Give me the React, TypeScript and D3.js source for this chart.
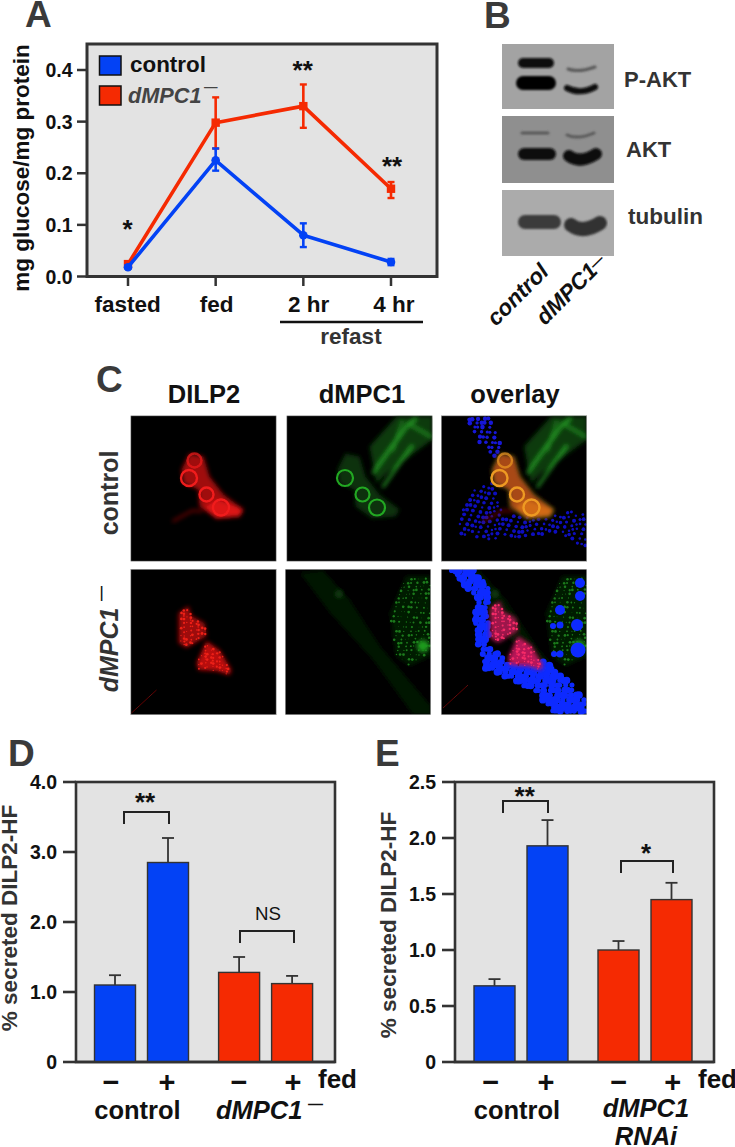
import React from "react";
import * as d3 from "d3";

// ---------- data ----------
const timeLabels = ["fasted", "fed", "2 hr", "4 hr"];
const controlMean = [0.018, 0.225, 0.08, 0.028];
const controlLow = [0.015, 0.205, 0.057, 0.022];
const controlHigh = [0.022, 0.248, 0.103, 0.034];
const mutantMean = [0.024, 0.298, 0.33, 0.17];
const mutantLow = [0.02, 0.248, 0.288, 0.152];
const mutantHigh = [0.028, 0.347, 0.372, 0.183];
const aTicks = [0, 0.1, 0.2, 0.3, 0.4];

const fedStates = ["−", "+"];
const dMeans = [1.1, 2.85, 1.28, 1.12];
const dErrs = [1.24, 3.2, 1.5, 1.23];
const dTicks = [0, 1, 2, 3, 4];
const dTickLabels = ["0", "1.0", "2.0", "3.0", "4.0"];
const eMeans = [0.68, 1.93, 1.0, 1.45];
const eErrs = [0.74, 2.16, 1.08, 1.6];
const eTicks = [0, 0.5, 1, 1.5, 2, 2.5];
const eTickLabels = ["0", "0.5", "1.0", "1.5", "2.0", "2.5"];

const BLUE = "#0342f5";
const RED = "#f52a02";
const INK = "#333";
const PANEL = "#e3e3e3";
const FONT = "'Liberation Sans', Arial, sans-serif";

// ---------- microscopy shapes, in image units (146 x 146) ----------
type P = [number, number];
const cluster: P[] = [[51, 54], [59, 38], [73, 41], [79, 61], [93, 79], [113, 94], [109, 101], [86, 103], [69, 91], [68, 74], [53, 68]];
const rings: [number, number, number][] = [[58.5, 62.5, 8], [76, 79, 7], [90.5, 92, 8], [64, 45, 7]];
const topBand: P[] = [[22, 1], [47, 1], [62, 31], [54, 41], [37, 25]];
const lowBand: P[] = [[26, 78], [54, 64], [62, 101], [112, 99], [146, 94], [146, 136], [116, 118], [49, 124], [16, 118]];
const fiberArea: P[] = [[83, 31], [110, 1], [146, 1], [146, 24], [123, 41], [100, 58], [90, 68]];
const fibers: [P, P, number][] = [[[86, 58], [122, 8], 2.5], [[96, 72], [126, 30], 2.5], [[106, 36], [116, 5], 1.2], [[122, 8], [146, 22], 1.5], [[122, 10], [130, 2], 2.5]];
const mutantBandBlue: P[] = [[10, 1], [34, 1], [51, 24], [48, 51], [48, 77], [69, 96], [99, 89], [124, 109], [146, 129], [146, 146], [112, 146], [97, 124], [69, 110], [44, 100], [33, 64], [35, 31]];
const mutantC1: P[] = [[48, 44], [58, 37], [61, 47], [74, 54], [76, 67], [56, 79], [48, 74]];
const mutantC2: P[] = [[66, 94], [76, 72], [89, 81], [101, 101], [99, 106], [86, 102], [68, 101]];
const faintBand: P[] = [[15, 4], [38, 1], [65, 31], [95, 77], [146, 137], [146, 146], [128, 146], [88, 91], [45, 44]];
const greenPatch: P[] = [[121, 7], [146, 7], [146, 87], [125, 97], [111, 87], [105, 44]];
const bigCells: [number, number, number][] = [[119, 41, 5], [139, 27, 5], [139, 14, 5], [136, 56, 6], [119, 56, 3.5], [112, 57, 3], [137, 81, 7.5], [119, 85, 3.5], [113, 85, 3]];

function lattice(poly: P[], step: number): P[] {
  const out: P[] = [];
  let row = 0;
  for (let y = 0; y <= 146; y += step * 0.87, row++) {
    for (let x = row % 2 ? step / 2 : 0; x <= 146; x += step) {
      const px = x + Math.sin(y * 1.7 + x * 0.9) * step * 0.3;
      const py = y + Math.cos(x * 1.3 - y * 0.6) * step * 0.3;
      if (d3.polygonContains(poly, [px, py])) out.push([px, py]);
    }
  }
  return out;
}
const pts = (p: P[]) => p.map((d) => d.join(",")).join(" ");

function Image({ x, y, children }: { x: number; y: number; children: React.ReactNode }) {
  return (
    <svg x={x} y={y} width={146} height={146} viewBox="0 0 146 146">
      <rect width={146} height={146} fill="#000" />
      <g filter="url(#soft)">{children}</g>
      <rect x={0.25} y={0.25} width={145.5} height={145.5} fill="none" stroke="#c8c8c8" strokeWidth={0.7} />
    </svg>
  );
}

function Dots({ poly, step, r, fill, opacity = 1, vary = 0 }: { poly: P[]; step: number; r: number; fill: string; opacity?: number; vary?: number }) {
  return (
    <g fill={fill} opacity={opacity}>
      {lattice(poly, step).map(([a, b], i) => (
        <circle key={i} cx={a} cy={b} r={Math.max(0.3, r + vary * Math.sin(a * 2.1 + b * 1.3))} />
      ))}
    </g>
  );
}

function ControlRed({ tint = false }: { tint?: boolean }) {
  const body = tint ? "#a84a18" : "#a00a0c";
  const ring = tint ? "#ee9a24" : "#f01c1c";
  return (
    <g>
      <g filter="url(#soft2)">
        <path d="M 42 106 L 62 95 L 72 96" stroke="#700808" strokeWidth={3} fill="none" opacity={0.8} />
        <polygon points={pts(cluster)} fill={body} />
        <polygon points={pts([[86, 84], [113, 94], [109, 101], [86, 103], [74, 92]])} fill={tint ? "#d26a18" : "#dc1216"} />
      </g>
      {rings.map(([a, b, r], i) => (
        <circle key={i} cx={a} cy={b} r={r} fill="none" stroke={ring} strokeWidth={2.4} opacity={i === 3 ? 0.7 : 1} />
      ))}
    </g>
  );
}

function ControlGreen() {
  return (
    <g>
      <g filter="url(#soft2)">
        <polygon points={pts(fiberArea)} fill="#0a3a0c" />
        {fibers.map(([a, b, w], i) => (
          <line key={i} x1={a[0]} y1={a[1]} x2={b[0]} y2={b[1]} stroke="#27a027" strokeWidth={w} />
        ))}
        <polygon points={pts(cluster)} fill="#0a300c" />
      </g>
      {rings.slice(0, 3).map(([a, b, r], i) => (
        <circle key={i} cx={a} cy={b} r={r} fill="none" stroke="#22a822" strokeWidth={2.2} />
      ))}
    </g>
  );
}

function MutantRed({ pink = false }: { pink?: boolean }) {
  const base = pink ? "#b81858" : "#b80c0e";
  const dots = pink ? "#f82c68" : "#ec2018";
  return (
    <g>
      <line x1={1} y1={144} x2={26} y2={121} stroke="#600808" strokeWidth={1} />
      <g filter="url(#soft2)">
        <polygon points={pts(mutantC1)} fill={base} opacity={0.85} />
        <polygon points={pts(mutantC2)} fill={base} />
      </g>
      {[mutantC1, mutantC2].map((c, k) => (
        <Dots key={k} poly={c} step={4.2} r={1} vary={0.4} fill={dots} />
      ))}
    </g>
  );
}

function MutantGreen() {
  return (
    <g>
      <g filter="url(#soft2)">
        <polygon points={pts(faintBand)} fill="#031303" />
        <polygon points={pts(greenPatch)} fill="#031a03" />
      </g>
      <Dots poly={greenPatch} step={5} r={0.9} vary={0.5} fill="#1c7a1c" />
      <g filter="url(#soft2)">
        <circle cx={138} cy={77} r={6} fill="#1f9c1f" />
        <circle cx={54} cy={25} r={4} fill="#0a3a0a" />
      </g>
    </g>
  );
}

function PanelC() {
  const cols = [130.5, 286.5, 441];
  const col2Row2 = 285;
  const row1 = 415.5;
  const row2 = 569;
  const titles = ["DILP2", "dMPC1", "overlay"];
  const centers = [204, 362, 515];
  return (
    <g>
      {titles.map((t, i) => (
        <text key={t} x={centers[i]} y={403} textAnchor="middle" fontSize={25.5} fontWeight={700} fill="#111">{t}</text>
      ))}
      <Image x={cols[0]} y={row1}><ControlRed /></Image>
      <Image x={cols[1]} y={row1}><ControlGreen /></Image>
      <Image x={cols[2]} y={row1}>
        <Dots poly={topBand} step={5} r={1.9} vary={0.4} fill="#1818d8" />
        <Dots poly={lowBand} step={5.5} r={1.6} vary={0.4} fill="#1010c0" />
        <ControlGreen />
        <ControlRed tint />
      </Image>
      <Image x={cols[0]} y={row2}><MutantRed /></Image>
      <Image x={col2Row2} y={row2}><MutantGreen /></Image>
      <Image x={cols[2]} y={row2}>
        <MutantGreen />
        <Dots poly={mutantBandBlue} step={4.8} r={3.2} vary={0.7} fill="#0c2cff" />
        <g fill="#0c2cff">
          {bigCells.map(([a, b, r], i) => <circle key={i} cx={a} cy={b} r={r} />)}
        </g>
        <g transform="translate(1,-5)"><MutantRed pink /></g>
      </Image>
      <text transform="translate(118,493) rotate(-90)" textAnchor="middle" fontSize={25} fontWeight={700} fill={INK}>control</text>
      <text transform="translate(118,650) rotate(-90)" textAnchor="middle" fontSize={25} fontWeight={700} fontStyle="italic" fill={INK}>dMPC1</text>
      <text transform="translate(106,601) rotate(-90)" fontSize={15} fontWeight={700} fill="#111">—</text>
    </g>
  );
}

function Band({ d, w, c, o = 1 }: { d: string; w: number; c: string; o?: number }) {
  return <path d={d} stroke={c} strokeWidth={w} strokeLinecap="round" fill="none" opacity={o} />;
}

function PanelB() {
  const x = 502;
  const w = 112;
  return (
    <g>
      <rect x={x} y={44} width={w} height={65} fill="#a3a3a3" />
      <rect x={x} y={116} width={w} height={67} fill="#8f8f8f" />
      <rect x={x} y={190} width={w} height={66} fill="#ababab" />
      <g filter="url(#band)">
        <Band d="M 523 63 L 549 63" w={10} c="#0a0a0a" />
        <Band d="M 523 83 L 549 83" w={14} c="#050505" />
        <Band d="M 568 69 Q 578 73 595 67" w={3} c="#444" o={0.8} />
        <Band d="M 567 88 Q 580 95 595 87" w={6} c="#0a0a0a" />
        <Band d="M 522 133 L 548 133" w={3} c="#4a4a4a" o={0.8} />
        <Band d="M 567 135 Q 578 140 594 133" w={3} c="#4a4a4a" o={0.8} />
        <Band d="M 524 154 L 550 154" w={12} c="#0d0d0d" />
        <Band d="M 569 156 Q 580 164 596 154" w={12} c="#0a0a0a" />
        <Band d="M 525 222 L 554 222" w={14} c="#3a3a3a" />
        <Band d="M 571 225 Q 583 234 600 223" w={14} c="#333" />
      </g>
      <text x={624} y={87} fontSize={22} fontWeight={700} fill={INK}>P-AKT</text>
      <text x={626} y={157} fontSize={22} fontWeight={700} fill={INK}>AKT</text>
      <text x={628} y={224} fontSize={22.5} fontWeight={700} fill={INK}>tubulin</text>
      <text transform="translate(496,327) rotate(-45)" fontSize={22.5} fontWeight={700} fontStyle="italic" fill="#111">control</text>
      <text transform="translate(545,326) rotate(-45)" fontSize={22.5} fontWeight={700} fontStyle="italic" fill="#111">dMPC1</text>
      <text transform="translate(595,270) rotate(-45)" fontSize={14} fontWeight={700} fill="#111">—</text>
    </g>
  );
}

function PanelA() {
  const y = d3.scaleLinear().domain([0, 0.4]).range([276.5, 70]);
  const x = d3.scalePoint<string>().domain(timeLabels).range([128, 391]);
  const line = d3.line<number>().x((_, i) => x(timeLabels[i])!).y((d) => y(d));
  const series = [
    { color: RED, mean: mutantMean, low: mutantLow, high: mutantHigh, square: true },
    { color: BLUE, mean: controlMean, low: controlLow, high: controlHigh, square: false },
  ];
  const labelX = [127.6, 216.7, 308.7, 394];
  const stars = [
    { s: "*", x: 127.6, y: 238 },
    { s: "**", x: 302.7, y: 79 },
    { s: "**", x: 392, y: 175 },
  ];
  return (
    <g>
      <rect x={87} y={44} width={350} height={232.5} fill={PANEL} stroke={INK} strokeWidth={3} />
      {aTicks.map((t) => (
        <g key={t}>
          <line x1={77} x2={87} y1={y(t)} y2={y(t)} stroke={INK} strokeWidth={2.5} />
          <text x={72.5} y={y(t) + 7} textAnchor="end" fontSize={19.5} fontWeight={700} fill="#111">{t.toFixed(1)}</text>
        </g>
      ))}
      {timeLabels.map((t, i) => (
        <g key={t}>
          <line x1={x(t)} x2={x(t)} y1={277} y2={286} stroke={INK} strokeWidth={2.5} />
          <text x={labelX[i]} y={312} textAnchor="middle" fontSize={22.5} fontWeight={700} fill="#111">{t}</text>
        </g>
      ))}
      <line x1={280} x2={423} y1={322} y2={322} stroke="#111" strokeWidth={2.5} />
      <text x={351} y={344} textAnchor="middle" fontSize={22.5} fontWeight={700} fill={INK}>refast</text>
      <text transform="translate(28.5,168) rotate(-90)" textAnchor="middle" fontSize={22.5} fontWeight={700} fill="#111">mg glucose/mg protein</text>
      {series.map((s) => (
        <g key={s.color} stroke={s.color} fill={s.color}>
          <path d={line(s.mean)!} fill="none" strokeWidth={3.6} strokeLinejoin="round" />
          {s.mean.map((m, i) => {
            const cx = x(timeLabels[i])!;
            return (
              <g key={i}>
                <line x1={cx} x2={cx} y1={y(s.low[i])} y2={y(s.high[i])} strokeWidth={2.6} />
                <line x1={cx - 3.5} x2={cx + 3.5} y1={y(s.low[i])} y2={y(s.low[i])} strokeWidth={2.4} />
                <line x1={cx - 3.5} x2={cx + 3.5} y1={y(s.high[i])} y2={y(s.high[i])} strokeWidth={2.4} />
                {s.square
                  ? <rect x={cx - 4.2} y={y(m) - 4.2} width={8.4} height={8.4} stroke="none" />
                  : <circle cx={cx} cy={y(m)} r={4.3} stroke="none" />}
              </g>
            );
          })}
        </g>
      ))}
      {stars.map((s, i) => (
        <text key={i} x={s.x} y={s.y} textAnchor="middle" fontSize={26} fontWeight={700} fill="#111">{s.s}</text>
      ))}
      <rect x={99.5} y={56} width={21.5} height={19} fill={BLUE} stroke="#111" strokeWidth={1.5} />
      <rect x={99.5} y={86} width={21.5} height={19} fill={RED} stroke="#111" strokeWidth={1.5} />
      <text x={130} y={72} fontSize={22.4} fontWeight={700} fill="#111">control</text>
      <text x={128} y={103} fontSize={21.7} fontWeight={700} fontStyle="italic" fill="#444">dMPC1</text>
      <text x={204} y={91} fontSize={13.5} fontWeight={700} fill="#444">—</text>
    </g>
  );
}

type BarProps = {
  left: number; right: number; ticks: number[]; tickLabels: string[]; domainMax: number;
  means: number[]; errs: number[]; yTitle: string; yTitleX: number; yTitleY: number;
  groupRange: [number, number];
  labelXs: number[]; fedX: number;
};

function BarPanel(p: BarProps) {
  const top = 782, bottom = 1062;
  const y = d3.scaleLinear().domain([0, p.domainMax]).range([bottom, top]);
  const groups = d3.scalePoint<string>().domain(["control", "mutant"]).range(p.groupRange);
  const inner = d3.scalePoint<string>().domain(fedStates).range([-26.5, 26.5]);
  const barW = 41;
  const xs = ["control", "mutant"].flatMap((g) => fedStates.map((f) => groups(g)! + inner(f)!));
  return (
    <g>
      <rect x={p.left} y={top} width={p.right - p.left} height={bottom - top} fill={PANEL} stroke={INK} strokeWidth={2.6} />
      {p.ticks.map((t, i) => (
        <g key={t}>
          <line x1={p.left - 13} x2={p.left} y1={y(t)} y2={y(t)} stroke={INK} strokeWidth={2.6} />
          <text x={p.left - 19} y={y(t) + 7} textAnchor="end" fontSize={19.5} fontWeight={700} fill="#111">{p.tickLabels[i]}</text>
        </g>
      ))}
      {xs.map((cx, i) => (
        <g key={i}>
          <line x1={cx} x2={cx} y1={y(p.means[i])} y2={y(p.errs[i])} stroke={INK} strokeWidth={1.8} />
          <line x1={cx - 6} x2={cx + 6} y1={y(p.errs[i])} y2={y(p.errs[i])} stroke={INK} strokeWidth={1.8} />
          <rect x={cx - barW / 2} y={y(p.means[i])} width={barW} height={bottom - y(p.means[i])} fill={i < 2 ? BLUE : RED} stroke={INK} strokeWidth={1.4} />
        </g>
      ))}
      <line x1={p.left} x2={p.right} y1={bottom} y2={bottom} stroke={INK} strokeWidth={2.6} />
      {p.labelXs.map((lx, i) => (
        <text key={i} x={lx} y={1092} textAnchor="middle" fontSize={29} fontWeight={700} fill="#111">{fedStates[i % 2]}</text>
      ))}
      <text x={p.fedX} y={1088} fontSize={26} fontWeight={700} fill="#111">fed</text>
      <text transform={`translate(${p.yTitleX},${p.yTitleY}) rotate(-90)`} textAnchor="middle" fontSize={22.5} fontWeight={700} fill={INK}>{p.yTitle}</text>
    </g>
  );
}

function Bracket({ x1, x2, y, label, ly, lx, size = 26, bold = true }: { x1: number; x2: number; y: number; label: string; ly: number; lx?: number; size?: number; bold?: boolean }) {
  return (
    <g>
      <path d={`M ${x1} ${y + 12} V ${y} H ${x2} V ${y + 12}`} fill="none" stroke="#222" strokeWidth={2} />
      <text x={lx ?? (x1 + x2) / 2} y={ly} textAnchor="middle" fontSize={size} fontWeight={bold ? 700 : 400} fill="#111">{label}</text>
    </g>
  );
}

export default function App() {
  return (
    <svg width={735} height={1147} viewBox="0 0 735 1147" style={{ position: "absolute", left: 0, top: 0, background: "#fff" }} fontFamily={FONT}>
      <defs>
        <filter id="soft" x="-5%" y="-5%" width="110%" height="110%"><feGaussianBlur stdDeviation={0.7} /></filter>
        <filter id="soft2" x="-20%" y="-20%" width="140%" height="140%"><feGaussianBlur stdDeviation={2} /></filter>
        <filter id="band" x="-10%" y="-10%" width="120%" height="120%"><feGaussianBlur stdDeviation={1.2} /></filter>
      </defs>
      {[["A", 25, 27], ["B", 484, 28], ["C", 96, 392], ["D", 8, 766], ["E", 375, 766]].map(([t, x, y]) => (
        <text key={t as string} x={x as number} y={y as number} fontSize={37} fontWeight={700} fill="#3a3a3a">{t}</text>
      ))}
      <PanelA />
      <PanelB />
      <PanelC />
      <BarPanel left={76} right={335} ticks={dTicks} tickLabels={dTickLabels} domainMax={4} means={dMeans} errs={dErrs}
        yTitle="% secreted DILP2-HF" yTitleX={17} yTitleY={918} groupRange={[141.5, 265.6]} labelXs={[111, 167, 239, 293]} fedX={318} />
      <Bracket x1={124} x2={169} y={812} label="**" ly={811} lx={145} />
      <Bracket x1={240} x2={294} y={931} label="NS" ly={920} lx={268} size={18.7} bold={false} />
      <text x={137.5} y={1119} textAnchor="middle" fontSize={25.5} fontWeight={700} fill="#111">control</text>
      <text x={216} y={1119} fontSize={25.5} fontWeight={700} fontStyle="italic" fill="#111">dMPC1</text>
      <text x={308} y={1109} fontSize={15} fontWeight={700} fill="#111">—</text>

      <BarPanel left={455} right={714} ticks={eTicks} tickLabels={eTickLabels} domainMax={2.5} means={eMeans} errs={eErrs}
        yTitle="% secreted DILP2-HF" yTitleX={396} yTitleY={925} groupRange={[521, 645]} labelXs={[490.7, 546, 618.7, 672.7]} fedX={698} />
      <Bracket x1={503} x2={548} y={801} label="**" ly={805} lx={524.7} />
      <Bracket x1={621} x2={673} y={861} label="*" ly={862} lx={646} />
      <text x={517} y={1119} textAnchor="middle" fontSize={25.5} fontWeight={700} fill="#111">control</text>
      <text x={646} y={1117} textAnchor="middle" fontSize={25.5} fontWeight={700} fontStyle="italic" fill="#111">dMPC1</text>
      <text x={646} y={1145} textAnchor="middle" fontSize={25.5} fontWeight={700} fontStyle="italic" fill="#111">RNAi</text>
    </svg>
  );
}
